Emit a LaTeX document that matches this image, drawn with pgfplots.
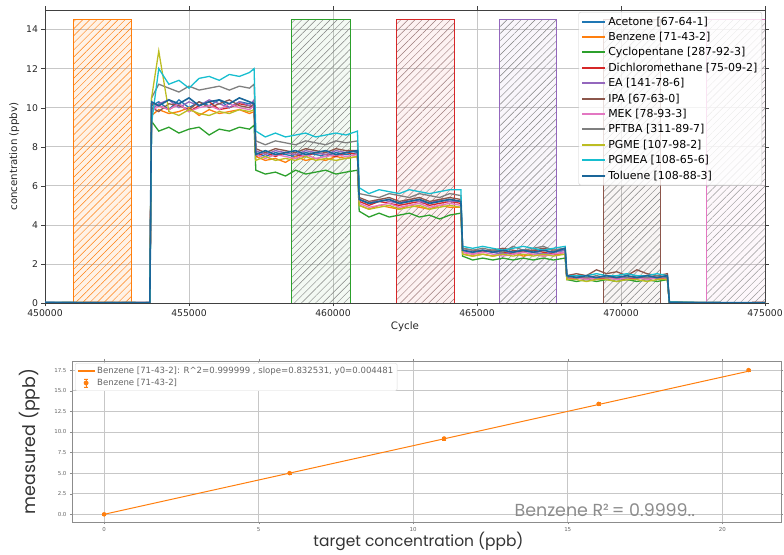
\documentclass[border=0pt]{standalone}
\usepackage{fontspec}
\setmainfont{DejaVu Sans}
\newfontfamily\popp{Poppins}
\usepackage{pgfplots}
\pgfplotsset{compat=1.18}
\usepackage{pgfplotstable}
\usetikzlibrary{patterns.meta}
\definecolor{tabblue}{HTML}{1F77B4}
\definecolor{taborange}{HTML}{FF7F0E}
\definecolor{tabgreen}{HTML}{2CA02C}
\definecolor{tabred}{HTML}{D62728}
\definecolor{tabpurple}{HTML}{9467BD}
\definecolor{tabbrown}{HTML}{8C564B}
\definecolor{tabpink}{HTML}{E377C2}
\definecolor{tabgray}{HTML}{7F7F7F}
\definecolor{tabolive}{HTML}{BCBD22}
\definecolor{tabcyan}{HTML}{17BECF}
\definecolor{tolblue}{HTML}{1A6699}

\pgfplotstableread{
x ac bz cp dc ea ip mk pf pg pa to
450000 0.02 0.01 0.03 0.00 0.02 0.01 0.02 0.03 0.01 0.02 0.03
451500 0.03 0.02 0.01 0.02 0.01 0.03 0.01 0.02 0.03 0.01 0.02
453000 0.01 0.03 0.02 0.03 0.02 0.02 0.03 0.01 0.02 0.03 0.01
453640 0.02 0.02 0.01 0.02 0.03 0.01 0.02 0.02 0.01 0.02 0.02
453700 10.1 9.6 9.3 10.2 9.9 10.0 9.8 10.5 10.5 9.2 10.3
453950 10.3 9.9 8.8 10.1 10.2 9.8 10.1 11.2 12.9 12.0 10.1
454300 9.9 9.7 9.0 9.9 10.4 10.2 9.9 11.0 9.8 11.2 10.4
454650 10.4 9.8 8.7 10.2 10.0 10.1 10.2 10.8 9.6 11.4 10.2
455000 10.0 10.0 8.9 9.8 10.3 9.9 9.8 11.1 9.9 11.0 10.5
455350 10.3 9.6 9.0 10.1 10.1 10.3 10.0 10.9 9.7 11.5 10.1
455700 10.1 9.9 8.6 10.3 10.4 10.0 10.1 11.0 9.6 11.6 10.3
456050 10.4 9.7 8.9 9.9 10.2 10.2 9.9 11.1 9.8 11.4 10.4
456400 10.0 9.8 8.8 10.0 10.0 10.4 10.2 10.9 9.7 11.7 10.2
456750 10.3 9.9 9.0 10.2 10.3 10.1 10.0 11.1 9.9 11.6 10.5
457100 10.2 9.7 8.9 10.1 10.1 10.0 9.9 11.0 9.8 11.8 10.3
457260 10.3 9.8 9.1 10.0 10.4 10.2 10.1 11.2 9.9 12.0 10.2
457320 7.7 7.5 6.8 7.5 7.8 7.9 7.6 8.3 7.3 8.8 7.6
457650 7.5 7.3 6.6 7.7 7.6 7.7 7.4 8.1 7.5 8.5 7.8
458000 7.7 7.4 6.7 7.5 7.8 7.9 7.6 8.3 7.3 8.7 7.6
458350 7.6 7.2 6.5 7.7 7.7 7.8 7.5 8.2 7.4 8.5 7.7
458700 7.5 7.5 6.8 7.6 7.6 7.7 7.4 8.1 7.3 8.6 7.8
459050 7.7 7.3 6.6 7.5 7.8 7.9 7.6 8.3 7.5 8.7 7.6
459400 7.6 7.4 6.7 7.7 7.7 7.8 7.4 8.2 7.3 8.5 7.7
459750 7.5 7.3 6.8 7.6 7.6 7.7 7.5 8.1 7.4 8.6 7.8
460100 7.7 7.5 6.6 7.5 7.8 7.9 7.6 8.3 7.3 8.7 7.6
460450 7.6 7.4 6.7 7.7 7.7 7.8 7.5 8.2 7.4 8.6 7.7
460850 7.7 7.5 6.8 7.6 7.8 7.8 7.6 8.3 7.5 8.8 7.8
460910 5.3 5.0 4.7 5.2 5.3 5.4 5.1 5.6 5.0 5.9 5.3
461250 5.1 4.8 4.4 5.0 5.1 5.2 4.9 5.5 4.8 5.6 5.1
461600 5.2 5.0 4.6 5.2 5.3 5.3 5.0 5.4 4.9 5.8 5.2
461950 5.3 4.9 4.4 5.1 5.2 5.4 5.1 5.6 5.0 5.7 5.3
462300 5.1 4.8 4.5 5.0 5.1 5.2 4.9 5.5 4.8 5.6 5.1
462650 5.2 5.0 4.6 5.1 5.3 5.3 5.0 5.4 4.9 5.8 5.2
463000 5.3 4.9 4.4 5.2 5.2 5.4 5.1 5.6 5.0 5.7 5.3
463350 5.1 4.8 4.5 5.0 5.1 5.2 4.9 5.5 4.8 5.6 5.1
463700 5.2 5.0 4.3 5.1 5.3 5.3 5.0 5.4 4.9 5.7 5.2
464050 5.3 4.9 4.5 5.2 5.2 5.4 5.1 5.6 5.0 5.8 5.3
464440 5.2 4.9 4.6 5.1 5.2 5.3 5.0 5.5 4.9 5.8 5.2
464500 2.7 2.5 2.4 2.6 2.7 2.8 2.6 2.8 2.5 2.9 2.7
464850 2.6 2.4 2.2 2.5 2.6 2.7 2.5 2.7 2.4 2.8 2.6
465200 2.7 2.5 2.3 2.6 2.7 2.6 2.6 2.8 2.5 2.9 2.7
465550 2.6 2.4 2.2 2.7 2.6 2.7 2.5 2.7 2.4 2.8 2.6
465900 2.5 2.5 2.3 2.6 2.5 2.8 2.4 2.6 2.5 2.7 2.7
466250 2.6 2.6 2.2 2.5 2.6 2.7 2.5 2.9 2.4 2.8 2.6
466600 2.7 2.4 2.3 2.6 2.7 2.6 2.6 2.7 2.5 2.9 2.7
466950 2.6 2.5 2.2 2.7 2.6 2.7 2.5 2.8 2.4 2.8 2.6
467300 2.5 2.4 2.3 2.6 2.5 2.8 2.4 2.9 2.5 2.7 2.7
467650 2.6 2.5 2.2 2.5 2.6 2.7 2.5 2.7 2.4 2.8 2.6
468060 2.7 2.5 2.3 2.6 2.7 2.8 2.6 2.8 2.5 2.9 2.8
468120 1.3 1.2 1.2 1.3 1.3 1.4 1.3 1.3 1.2 1.4 1.4
468450 1.3 1.3 1.1 1.3 1.4 1.5 1.3 1.4 1.2 1.4 1.3
468800 1.2 1.2 1.2 1.3 1.3 1.4 1.2 1.3 1.1 1.4 1.4
469150 1.3 1.3 1.1 1.2 1.3 1.7 1.3 1.4 1.2 1.5 1.3
469500 1.3 1.2 1.2 1.3 1.4 1.5 1.3 1.3 1.2 1.4 1.4
469850 1.2 1.3 1.1 1.3 1.3 1.6 1.2 1.4 1.1 1.4 1.3
470200 1.3 1.2 1.2 1.2 1.3 1.4 1.3 1.3 1.2 1.5 1.4
470550 1.3 1.3 1.1 1.3 1.4 1.7 1.3 1.4 1.2 1.4 1.3
470900 1.2 1.2 1.2 1.3 1.3 1.5 1.2 1.3 1.1 1.4 1.4
471250 1.3 1.3 1.1 1.3 1.3 1.4 1.3 1.4 1.2 1.5 1.3
471610 1.3 1.2 1.2 1.3 1.4 1.5 1.3 1.3 1.2 1.4 1.4
471680 0.05 0.03 0.04 0.02 0.03 0.04 0.02 0.03 0.02 0.05 0.03
473000 0.02 0.01 0.02 0.01 0.02 0.01 0.02 0.01 0.02 0.02 0.01
475000 0.01 0.02 0.01 0.02 0.01 0.02 0.01 0.02 0.01 0.01 0.02
}\conc

\pgfplotstableread{
x y e
0 0.0 0.15
6 5.0 0.15
11 9.2 0.15
16 13.4 0.15
20.85 17.5 0.15
}\calib

\begin{document}
\begin{tikzpicture}
\path[use as bounding box] (0,0) rectangle (784bp,555bp);
\begin{axis}[
  at={(45bp,252bp)}, anchor=south west, scale only axis,
  width=720bp, height=293bp,
  xmin=450000, xmax=475000, ymin=0, ymax=15,
  xtick={450000,455000,460000,465000,470000,475000},
  ytick={0,2,4,6,8,10,12,14},
  scaled x ticks=false,
  /pgf/number format/assume math mode=true,
  xticklabel style={/pgf/number format/.cd, fixed, precision=0, 1000 sep={}},
  tick label style={font=\fontsize{9.3}{10}\selectfont, text=black!85},
  label style={font=\fontsize{10.3}{11}\selectfont, text=black!85},
  xlabel={Cycle}, ylabel={concentration (ppbv)},
  xlabel style={yshift=2bp},
  grid=major, grid style={color=black!22, line width=0.6bp},
  axis line style={black!75, line width=0.7bp},
  tick align=outside, major tick length=3.5bp, tick style={black!75},
  every axis plot/.append style={line width=1.3bp},
  legend style={at={(1,1)}, anchor=north east, xshift=-3bp, yshift=-2bp,
    font=\fontsize{11}{12}\selectfont, draw=black!20, fill=white, fill opacity=0.8, text opacity=1,
    rounded corners=2bp, row sep=1.6bp, inner sep=2.5bp},
  legend cell align=left,
  legend image code/.code={\draw[#1, line width=2bp, draw opacity=1] (0bp,0bp) -- (23bp,0bp);},
]
% hatched regions
\addplot[draw=none, fill=taborange, fill opacity=0.10, forget plot] coordinates {(451000,14.5) (453000,14.5)} \closedcycle;
\addplot[draw=taborange, line width=0.8bp, pattern={Lines[angle=45,distance=5bp,line width=0.45bp]}, pattern color=taborange, forget plot] coordinates {(451000,14.5) (453000,14.5)} \closedcycle;
\addplot[draw=none, fill=tabgreen, fill opacity=0.06, forget plot] coordinates {(458570,14.5) (460590,14.5)} \closedcycle;
\addplot[draw=tabgreen, line width=0.8bp, pattern={Lines[angle=45,distance=5bp,line width=0.45bp]}, pattern color=black!50, forget plot] coordinates {(458570,14.5) (460590,14.5)} \closedcycle;
\addplot[draw=none, fill=tabred, fill opacity=0.06, forget plot] coordinates {(462190,14.5) (464200,14.5)} \closedcycle;
\addplot[draw=tabred, line width=0.8bp, pattern={Lines[angle=45,distance=5bp,line width=0.45bp]}, pattern color=tabred!35!black!55, forget plot] coordinates {(462190,14.5) (464200,14.5)} \closedcycle;
\addplot[draw=none, fill=tabpurple, fill opacity=0.06, forget plot] coordinates {(465770,14.5) (467770,14.5)} \closedcycle;
\addplot[draw=tabpurple, line width=0.8bp, pattern={Lines[angle=45,distance=5bp,line width=0.45bp]}, pattern color=black!50, forget plot] coordinates {(465770,14.5) (467770,14.5)} \closedcycle;
\addplot[draw=none, fill=tabbrown, fill opacity=0.06, forget plot] coordinates {(469390,14.5) (471380,14.5)} \closedcycle;
\addplot[draw=tabbrown, line width=0.8bp, pattern={Lines[angle=45,distance=5bp,line width=0.45bp]}, pattern color=black!50, forget plot] coordinates {(469390,14.5) (471380,14.5)} \closedcycle;
\addplot[draw=none, fill=tabpink, fill opacity=0.06, forget plot] coordinates {(472970,14.5) (475400,14.5)} \closedcycle;
\addplot[draw=tabpink, line width=0.8bp, pattern={Lines[angle=45,distance=5bp,line width=0.45bp]}, pattern color=black!40, forget plot] coordinates {(472970,14.5) (475400,14.5)} \closedcycle;
% series
\addplot[color=tabblue, draw=tabblue, no marks] table[x=x,y=ac] {\conc}; \addlegendentry{Acetone [67-64-1]}
\addplot[color=taborange, draw=taborange, no marks] table[x=x,y=bz] {\conc}; \addlegendentry{Benzene [71-43-2]}
\addplot[color=tabgreen, draw=tabgreen, no marks] table[x=x,y=cp] {\conc}; \addlegendentry{Cyclopentane [287-92-3]}
\addplot[color=tabred, draw=tabred, no marks] table[x=x,y=dc] {\conc}; \addlegendentry{Dichloromethane [75-09-2]}
\addplot[color=tabpurple, draw=tabpurple, no marks] table[x=x,y=ea] {\conc}; \addlegendentry{EA [141-78-6]}
\addplot[color=tabbrown, draw=tabbrown, no marks] table[x=x,y=ip] {\conc}; \addlegendentry{IPA [67-63-0]}
\addplot[color=tabpink, draw=tabpink, no marks] table[x=x,y=mk] {\conc}; \addlegendentry{MEK [78-93-3]}
\addplot[color=tabgray, draw=tabgray, no marks] table[x=x,y=pf] {\conc}; \addlegendentry{PFTBA [311-89-7]}
\addplot[color=tabolive, draw=tabolive, no marks] table[x=x,y=pg] {\conc}; \addlegendentry{PGME [107-98-2]}
\addplot[color=tabcyan, draw=tabcyan, no marks] table[x=x,y=pa] {\conc}; \addlegendentry{PGMEA [108-65-6]}
\addplot[color=tolblue, draw=tolblue, no marks, line width=1.6bp] table[x=x,y=to] {\conc}; \addlegendentry{Toluene [108-88-3]}
\end{axis}

\begin{axis}[
  at={(72bp,33bp)}, anchor=south west, scale only axis,
  width=709bp, height=161bp,
  xmin=-1.04, xmax=21.9, ymin=-0.93, ymax=18.6,
  xtick={0,5,10,15,20},
  ytick={0,2.5,5,7.5,10,12.5,15,17.5},
  /pgf/number format/assume math mode=true,
  yticklabel style={/pgf/number format/.cd, fixed, fixed zerofill, precision=1},
  tick label style={font=\fontsize{5.5}{6}\selectfont, text=black!60},
  xlabel={target concentration (ppb)}, ylabel={measured (ppb)},
  xlabel style={font=\popp\fontsize{15.5}{17}\selectfont, text=black!80, yshift=6bp, xshift=-8bp},
  ylabel style={font=\popp\fontsize{17.5}{19}\selectfont, text=black!80, yshift=7bp},
  grid=major, grid style={color=black!22, line width=0.6bp},
  axis line style={black!45, line width=0.8bp},
  tick align=outside, major tick length=2bp, tick style={black!45},
  legend style={at={(0,1)}, anchor=north west, xshift=3bp, yshift=-2bp,
    font=\fontsize{8.6}{9}\selectfont, text=black!60, draw=black!15, fill=white,
    rounded corners=1.5bp, row sep=0bp, inner sep=1.8bp},
  legend cell align=left,
]
\addplot[color=taborange, draw=taborange, line width=1bp, no marks,
  legend image code/.code={\draw[taborange, line width=1.2bp] (0bp,0bp) -- (17bp,0bp);}] coordinates {(0,0.0045) (20.85,17.363)};
\addlegendentry{Benzene [71-43-2]: R\^{}2=0.999999 , slope=0.832531, y0=0.004481}
\addplot[color=taborange, draw=taborange, fill=taborange, only marks, mark=*, mark size=2bp,
  legend image code/.code={\draw[taborange, line width=0.9bp] (8.5bp,-4bp) -- (8.5bp,4bp) (6.5bp,-4bp) -- (10.5bp,-4bp) (6.5bp,4bp) -- (10.5bp,4bp); \fill[taborange] (8.5bp,0bp) circle (2.2bp);},
  error bars/.cd, y dir=both, y explicit, error bar style={line width=0.8bp, draw=taborange}] table[x=x, y=y, y error=e] {\calib};
\addlegendentry{Benzene [71-43-2]}
\node[font=\popp\fontsize{17.5}{19}\selectfont, text=black!45] at (axis cs:16.2,0.45) {Benzene R²\,= 0.9999..};
\end{axis}
\end{tikzpicture}
\end{document}
